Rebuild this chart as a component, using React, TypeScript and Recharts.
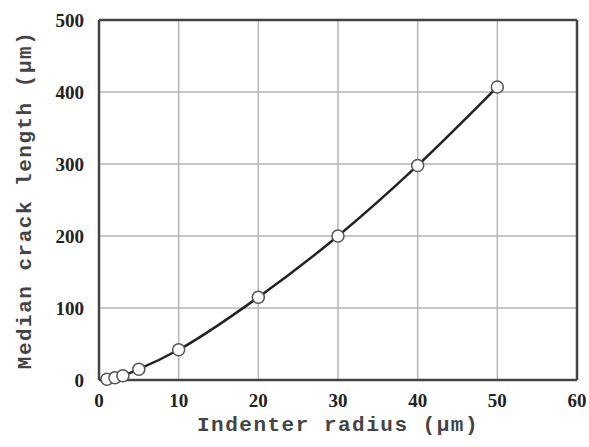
import React from "react";
import {
  LineChart,
  Line,
  XAxis,
  YAxis,
  CartesianGrid,
  ReferenceLine,
  Label,
} from "recharts";

// indenter radius (um) and median crack length (um)
const radius = [1, 2, 3, 5, 10, 20, 30, 40, 50];
const crackLength = [1, 3, 6, 15, 42, 115, 200, 298, 407];

const xTicks = [0, 10, 20, 30, 40, 50, 60];
const yTicks = [0, 100, 200, 300, 400, 500];

const data = radius.map((r, i) => ({ r, c: crackLength[i] }));

const tickStyle = {
  fontFamily: "'Liberation Serif', serif",
  fontWeight: 700,
  fontSize: 19,
  fill: "#222",
};

const titleFont = "'Liberation Mono', monospace";

// eslint-disable-next-line @typescript-eslint/no-explicit-any
const YTitle = (props: any) => {
  const vb = props.viewBox || { x: 0, y: 0, height: 0 };
  const cx = 25;
  const cy = vb.y + vb.height / 2;
  return (
    <text
      x={cx}
      y={cy}
      transform={`rotate(-90, ${cx}, ${cy})`}
      textAnchor="middle"
      dominantBaseline="central"
      fontFamily={titleFont}
      fontWeight={700}
      fontSize={21}
      letterSpacing={1.5}
      fill="#444"
    >
      Median crack length (μm)
    </text>
  );
};

export default function App() {
  return (
    <div
      style={{
        position: "fixed",
        left: 0,
        top: 0,
        width: 589,
        height: 447,
        overflow: "hidden",
        background: "#fff",
      }}
    >
      <LineChart
        width={589}
        height={447}
        data={data}
        margin={{ top: 20, right: 12, left: 0, bottom: 8 }}
      >
        <CartesianGrid stroke="#b5b5b5" strokeWidth={1.5} />
        <XAxis
          dataKey="r"
          type="number"
          domain={[0, 60]}
          ticks={xTicks}
          height={59}
          tick={tickStyle}
          tickLine={false}
          axisLine={{ stroke: "#444", strokeWidth: 2.5 }}
          tickMargin={8}
        >
          <Label
            value="Indenter radius (μm)"
            position="insideBottom"
            offset={8}
            style={{
              fontFamily: titleFont,
              fontWeight: 700,
              fontSize: 21,
              letterSpacing: 1.5,
              fill: "#444",
            }}
          />
        </XAxis>
        <YAxis
          type="number"
          domain={[0, 500]}
          ticks={yTicks}
          width={99}
          tick={tickStyle}
          tickLine={false}
          axisLine={{ stroke: "#444", strokeWidth: 2.5 }}
          tickMargin={9}
        >
          <Label content={<YTitle />} />
        </YAxis>
        <ReferenceLine y={500} stroke="#444" strokeWidth={2.5} />
        <ReferenceLine x={60} stroke="#444" strokeWidth={2.5} />
        <Line
          dataKey="c"
          type="monotone"
          stroke="#222"
          strokeWidth={2.5}
          dot={{ r: 6, fill: "#fff", stroke: "#555", strokeWidth: 1.5 }}
          activeDot={false}
          isAnimationActive={false}
        />
      </LineChart>
    </div>
  );
}
